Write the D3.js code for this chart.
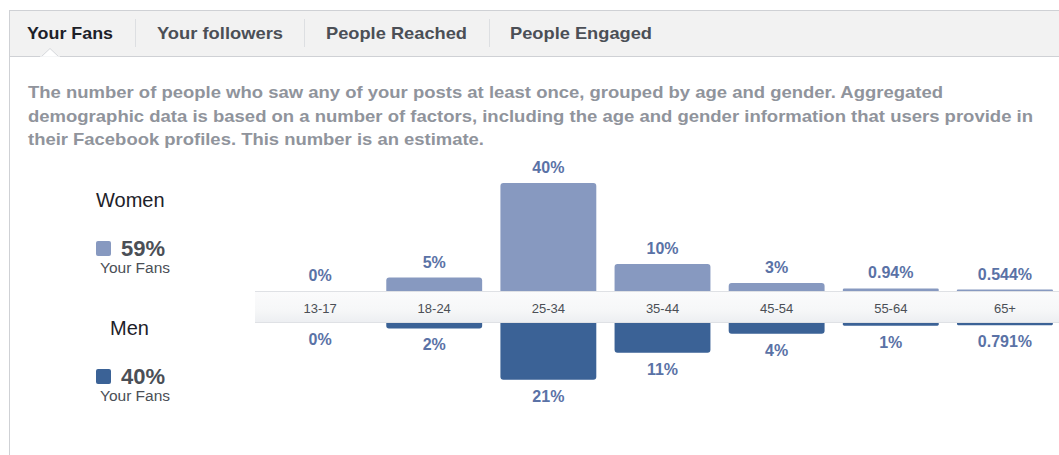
<!DOCTYPE html>
<html>
<head>
<meta charset="utf-8">
<script src="https://cdn.jsdelivr.net/npm/d3@7"></script>
<style>
  body { margin: 0; background: #fff; }
  svg { display: block; font-family: "Helvetica Neue", Helvetica, Arial, "Liberation Sans", sans-serif; }
</style>
</head>
<body>
<div id="chart"></div>
<script>
// data
var categories = ["13-17", "18-24", "25-34", "35-44", "45-54", "55-64", "65+"];
var women = [0, 5, 40, 10, 3, 0.94, 0.544];
var men = [0, 2, 21, 11, 4, 1, 0.791];
var womenTotal = "59%";
var menTotal = "40%";
var tabs = ["Your Fans", "Your followers", "People Reached", "People Engaged"];
var description = [
  "The number of people who saw any of your posts at least once, grouped by age and gender. Aggregated",
  "demographic data is based on a number of factors, including the age and gender information that users provide in",
  "their Facebook profiles. This number is an estimate."
];

var W = 1059, H = 455;
var womenColor = "#8799c0", menColor = "#3b6296", labelColor = "#5a72a6";

var svg = d3.select("#chart").append("svg")
  .attr("width", W).attr("height", H);

// panel + tab bar
svg.append("rect").attr("x", 9.5).attr("y", 10.5).attr("width", W).attr("height", 46)
  .attr("fill", "#f2f2f2").attr("stroke", "#cfd1d5");
svg.append("line").attr("x1", 9.5).attr("x2", 9.5).attr("y1", 10).attr("y2", H)
  .attr("stroke", "#cfd1d5");
// notch under active tab
svg.append("path")
  .attr("d", "M41,57 L50,48.5 L59,57 Z")
  .attr("fill", "#fff").attr("stroke", "#d6d8dc");
svg.append("rect").attr("x", 40).attr("y", 56.5).attr("width", 20).attr("height", 2).attr("fill", "#fff");

var tabX = [27, 157, 326, 510];
var tabW = [86, 126, 141, 142];
var sepX = [135, 304, 489];
svg.selectAll(".tab").data(tabs).enter().append("text")
  .attr("class", "tab")
  .attr("x", function(d, i) { return tabX[i]; })
  .attr("y", 39)
  .attr("textLength", function(d, i) { return tabW[i]; })
  .attr("lengthAdjust", "spacingAndGlyphs")
  .attr("fill", function(d, i) { return i == 0 ? "#1d2129" : "#4b4f56"; })
  .style("font-size", "17px").style("font-weight", "bold")
  .text(function(d) { return d; });
svg.selectAll(".sep").data(sepX).enter().append("line")
  .attr("x1", function(d) { return d + 0.5; }).attr("x2", function(d) { return d + 0.5; })
  .attr("y1", 19).attr("y2", 47)
  .attr("stroke", "#dddfe2");

// description
var descW = [915, 1005, 456];
svg.selectAll(".desc").data(description).enter().append("text")
  .attr("class", "desc")
  .attr("x", 28)
  .attr("y", function(d, i) { return 98 + i * 23.5; })
  .attr("textLength", function(d, i) { return descW[i]; })
  .attr("lengthAdjust", "spacingAndGlyphs")
  .attr("fill", "#90949c")
  .style("font-size", "17px").style("font-weight", "bold")
  .text(function(d) { return d; });

// legend
function legend(y0, title, titleX, color, total) {
  svg.append("text").attr("x", titleX).attr("y", y0)
    .attr("fill", "#1d2129").style("font-size", "20px").text(title);
  svg.append("rect").attr("x", 96).attr("y", y0 + 34).attr("width", 15).attr("height", 15)
    .attr("rx", 2).attr("fill", color);
  svg.append("text").attr("x", 121).attr("y", y0 + 49)
    .attr("fill", "#4b4f56").style("font-size", "22px").style("font-weight", "bold").text(total);
  svg.append("text").attr("x", 100).attr("y", y0 + 66)
    .attr("fill", "#4b4f56").style("font-size", "15.5px").text("Your Fans");
}
legend(207, "Women", 96, womenColor, womenTotal);
legend(335, "Men", 110, menColor, menTotal);

// chart
var bandTop = 291, bandBottom = 323;
var x = d3.scaleBand().domain(categories).range([263, 1062])
  .paddingInner(0.16).paddingOuter(0.08);
var h = d3.scaleLinear().domain([0, 40]).range([0, 108]);

function radius(v) { return Math.min(3, h(v) / 2); }

var wBars = svg.append("g");
wBars.selectAll("rect").data(women).enter().filter(function(d) { return d > 0; })
  .append("rect")
  .attr("x", function(d, i) { return x(categories[women.indexOf(d)]); })
  .attr("y", function(d) { return bandTop - h(d); })
  .attr("width", x.bandwidth())
  .attr("height", function(d) { return h(d) + 10; })
  .attr("rx", radius)
  .attr("fill", womenColor);

var mBars = svg.append("g");
mBars.selectAll("rect").data(men).enter().filter(function(d) { return d > 0; })
  .append("rect")
  .attr("x", function(d) { return x(categories[men.indexOf(d)]); })
  .attr("y", bandBottom - 10)
  .attr("width", x.bandwidth())
  .attr("height", function(d) { return h(d) + 10; })
  .attr("rx", radius)
  .attr("fill", menColor);

// axis band
var grad = svg.append("defs").append("linearGradient").attr("id", "band")
  .attr("x1", 0).attr("x2", 0).attr("y1", 0).attr("y2", 1);
grad.append("stop").attr("offset", "0%").attr("stop-color", "#fbfbfc");
grad.append("stop").attr("offset", "60%").attr("stop-color", "#f6f7f8");
grad.append("stop").attr("offset", "100%").attr("stop-color", "#eceef1");
svg.append("rect").attr("x", 255).attr("y", bandTop).attr("width", W - 255)
  .attr("height", bandBottom - bandTop).attr("fill", "url(#band)");
svg.append("line").attr("x1", 255).attr("x2", W).attr("y1", bandTop + 0.5).attr("y2", bandTop + 0.5)
  .attr("stroke", "#dfe1e5");
svg.append("line").attr("x1", 255).attr("x2", W).attr("y1", bandBottom - 0.5).attr("y2", bandBottom - 0.5)
  .attr("stroke", "#dfe1e5");

var axis = svg.append("g").attr("transform", "translate(0," + bandTop + ")")
  .call(d3.axisBottom(x).tickSize(0).tickPadding(0));
axis.select(".domain").remove();
axis.selectAll("text")
  .attr("y", 22).attr("dy", null)
  .attr("fill", "#4b4f56")
  .style("font-size", "13px")
  .style("font-family", "\"Helvetica Neue\", Helvetica, Arial, sans-serif");

// value labels
svg.selectAll(".wlab").data(women).enter().append("text")
  .attr("class", "wlab")
  .attr("x", function(d, i) { return x(categories[i]) + x.bandwidth() / 2; })
  .attr("y", function(d) { return bandTop - h(d) - 10; })
  .attr("text-anchor", "middle")
  .attr("fill", labelColor)
  .style("font-size", "16px").style("font-weight", "bold")
  .text(function(d) { return d + "%"; });

svg.selectAll(".mlab").data(men).enter().append("text")
  .attr("class", "mlab")
  .attr("x", function(d, i) { return x(categories[i]) + x.bandwidth() / 2; })
  .attr("y", function(d) { return bandBottom + h(d) + 22; })
  .attr("text-anchor", "middle")
  .attr("fill", labelColor)
  .style("font-size", "16px").style("font-weight", "bold")
  .text(function(d) { return d + "%"; });
</script>
</body>
</html>
